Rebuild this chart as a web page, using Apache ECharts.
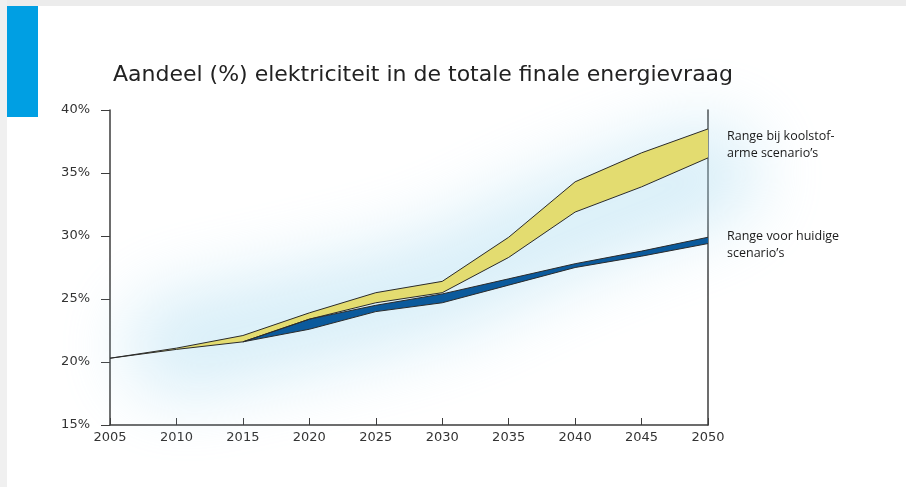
<!DOCTYPE html>
<html>
<head>
<meta charset="utf-8">
<script src="https://cdn.jsdelivr.net/npm/echarts@6/dist/echarts.min.js"></script>
<style>
  html, body { margin: 0; padding: 0; background: #fff; }
  #main { width: 906px; height: 487px; }
</style>
</head>
<body>
<div id="main"></div>
<script>
// jaren op de x-as
const years = [2005, 2010, 2015, 2020, 2025, 2030, 2035, 2040, 2045, 2050];

// koolstofarme scenario's (geel): onder- en bovengrens in %
const lowCarbonMin = [20.3, 21.0, 21.6, 23.4, 24.7, 25.5, 28.3, 31.9, 33.9, 36.2];
const lowCarbonMax = [20.3, 21.1, 22.1, 23.9, 25.5, 26.4, 29.9, 34.3, 36.6, 38.5];

// huidige scenario's (blauw), vanaf 2015
const currentYears = [2015, 2020, 2025, 2030, 2035, 2040, 2045, 2050];
const currentMin = [21.6, 22.6, 24.0, 24.7, 26.1, 27.5, 28.4, 29.4];
const currentMax = [21.6, 23.4, 24.5, 25.4, 26.6, 27.8, 28.8, 29.9];

// lichtblauwe gloed achter de banden (middenlijn)
const glowYears = [2010, 2020, 2030, 2037, 2045, 2050];
const glowValues = [21.3, 23.6, 26.4, 29.8, 33.2, 35.0];

const yTicks = [15, 20, 25, 30, 35, 40];

(function () {
  'use strict';

  const chart = echarts.init(document.getElementById('main'));
  const edge = '#2b2b2b';
  const axisColor = '#3c3c3c';
  const labelFont = 'DejaVu Sans, Verdana, sans-serif';

  // blauwe reeks op de jaren-as zetten (leeg voor 2005 en 2010)
  function onYears(xs, vals) {
    return years.map(y => {
      const i = xs.indexOf(y);
      return i < 0 ? '-' : vals[i];
    });
  }

  // gloed: lijn buiten beeld, alleen de schaduw valt op de juiste plek
  function glowSeries(width, blur, color) {
    return {
      type: 'custom',
      xAxisIndex: 1,
      silent: true,
      z: 1,
      clip: false,
      data: glowYears.map((y, i) => [y, glowValues[i]]),
      renderItem: function (params, api) {
        if (params.dataIndex !== 0) return null;
        const pts = glowYears.map((y, i) => api.coord([y, glowValues[i]]));
        return {
          type: 'polyline',
          x: -3000,
          shape: { points: pts, smooth: 0.4 },
          style: {
            fill: null,
            stroke: color,
            lineWidth: width,
            lineCap: 'round',
            lineJoin: 'round',
            shadowBlur: blur,
            shadowColor: color,
            shadowOffsetX: 3000
          }
        };
      }
    };
  }

  function bandBase(name, vals, stack) {
    return {
      name: name,
      type: 'line',
      stack: stack,
      symbol: 'none',
      silent: true,
      z: 3,
      data: vals,
      lineStyle: { color: edge, width: 1 }
    };
  }

  function bandTop(name, lo, hi, stack, fill) {
    return {
      name: name,
      type: 'line',
      stack: stack,
      symbol: 'none',
      silent: true,
      z: 3,
      data: hi.map((v, i) => (v === '-' ? '-' : +(v - lo[i]).toFixed(2))),
      lineStyle: { color: edge, width: 1 },
      areaStyle: { color: fill, opacity: 1 }
    };
  }

  const curLo = onYears(currentYears, currentMin);
  const curHi = onYears(currentYears, currentMax);

  const option = {
    animation: false,
    backgroundColor: '#ffffff',
    title: {
      text: 'Aandeel (%) elektriciteit in de totale finale energievraag',
      left: 108,
      top: 59,
      textStyle: {
        fontFamily: 'DejaVu Sans, sans-serif',
        fontSize: 22,
        fontWeight: 'normal',
        color: '#222'
      }
    },
    grid: { left: 110, right: 198, top: 110, bottom: 62 },
    xAxis: [
      {
        type: 'category',
        data: years.map(String),
        boundaryGap: false,
        axisLine: { lineStyle: { color: axisColor, width: 1.5 } },
        axisTick: { inside: true, length: 7, lineStyle: { color: axisColor, width: 1 } },
        axisLabel: {
          margin: 6,
          interval: 0,
          color: '#333',
          fontFamily: labelFont,
          fontSize: 13
        },
        splitLine: { show: false }
      },
      {
        type: 'value',
        min: 2005,
        max: 2050,
        show: false
      }
    ],
    yAxis: [
      {
        type: 'value',
        min: yTicks[0],
        max: yTicks[yTicks.length - 1],
        interval: 5,
        axisLine: { show: true, lineStyle: { color: axisColor, width: 1.5 } },
        axisTick: { show: true, length: 9, lineStyle: { color: axisColor, width: 1 } },
        axisLabel: {
          margin: 20,
          color: '#333',
          fontFamily: labelFont,
          fontSize: 13,
          formatter: '{value}%'
        },
        splitLine: { show: false }
      },
      {
        type: 'value',
        position: 'right',
        min: yTicks[0],
        max: yTicks[yTicks.length - 1],
        interval: 5,
        axisLine: { show: true, lineStyle: { color: axisColor, width: 1.5 } },
        axisTick: { show: false },
        axisLabel: { show: false },
        splitLine: { show: false }
      }
    ],
    graphic: [
      { type: 'rect', left: 0, top: 0, shape: { width: 906, height: 6 }, style: { fill: '#ececec' }, z: 0 },
      { type: 'rect', left: 0, top: 0, shape: { width: 7, height: 487 }, style: { fill: '#f0f0f0' }, z: 0 },
      { type: 'rect', left: 7, top: 6, shape: { width: 31, height: 111 }, style: { fill: '#009fe3' }, z: 5 },
      {
        type: 'text', left: 727, top: 128, z: 5,
        style: {
          text: 'Range bij koolstof-\narme scenario\u2019s',
          font: '12.5px "Open Sans", sans-serif',
          lineHeight: 17,
          fill: '#1a1a1a'
        }
      },
      {
        type: 'text', left: 727, top: 228, z: 5,
        style: {
          text: 'Range voor huidige\nscenario\u2019s',
          font: '12.5px "Open Sans", sans-serif',
          lineHeight: 17,
          fill: '#1a1a1a'
        }
      }
    ],
    series: [
      glowSeries(100, 70, 'rgba(175,221,240,0.7)'),
      bandBase('Koolstofarm min', lowCarbonMin, 'geel'),
      bandTop('Koolstofarm max', lowCarbonMin, lowCarbonMax, 'geel', '#e3dc70'),
      bandBase('Huidig min', curLo, 'blauw'),
      bandTop('Huidig max', curLo, curHi, 'blauw', '#0b5a9c')
    ]
  };

  chart.setOption(option);
})();
</script>
</body>
</html>
